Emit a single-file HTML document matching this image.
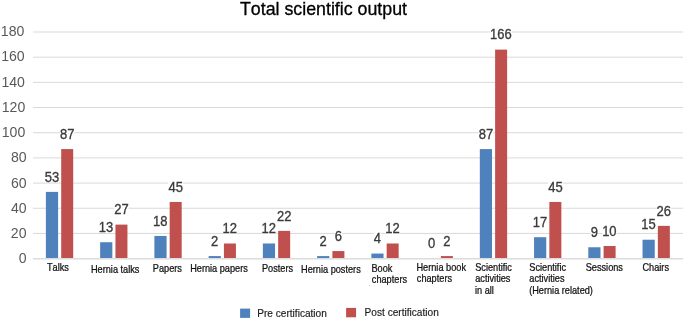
<!DOCTYPE html><html><head><meta charset="utf-8"><style>html,body{margin:0;padding:0;background:#fff;width:685px;height:320px;overflow:hidden}svg{display:block;filter:blur(0.3px)}text{font-family:"Liberation Sans",sans-serif;font-kerning:none}</style></head><body>
<svg width="685" height="320" viewBox="0 0 685 320">
<rect width="685" height="320" fill="#fff"/>
<rect x="33" y="232.92" width="650" height="1" fill="#D9D9D9"/>
<rect x="33" y="207.74" width="650" height="1" fill="#D9D9D9"/>
<rect x="33" y="182.57" width="650" height="1" fill="#D9D9D9"/>
<rect x="33" y="157.39" width="650" height="1" fill="#D9D9D9"/>
<rect x="33" y="132.21" width="650" height="1" fill="#D9D9D9"/>
<rect x="33" y="107.03" width="650" height="1" fill="#D9D9D9"/>
<rect x="33" y="81.86" width="650" height="1" fill="#D9D9D9"/>
<rect x="33" y="56.68" width="650" height="1" fill="#D9D9D9"/>
<rect x="33" y="31.50" width="650" height="1" fill="#D9D9D9"/>
<rect x="33" y="258.1" width="650" height="1.4" fill="#DADADA"/>
<text transform="translate(18.71 263.20) scale(1 1.04)" font-size="14.1" fill="#595959">0</text>
<text transform="translate(10.87 238.02) scale(1 1.04)" font-size="14.1" fill="#595959">20</text>
<text transform="translate(10.97 212.84) scale(1 1.04)" font-size="14.1" fill="#595959">40</text>
<text transform="translate(10.97 187.67) scale(1 1.04)" font-size="14.1" fill="#595959">60</text>
<text transform="translate(10.97 162.49) scale(1 1.04)" font-size="14.1" fill="#595959">80</text>
<text transform="translate(1.73 137.31) scale(1 1.04)" font-size="14.1" fill="#595959">100</text>
<text transform="translate(1.73 112.13) scale(1 1.04)" font-size="14.1" fill="#595959">120</text>
<text transform="translate(1.43 86.96) scale(1 1.04)" font-size="14.1" fill="#595959">140</text>
<text transform="translate(1.13 61.18) scale(1 1.04)" font-size="14.1" fill="#595959">160</text>
<text transform="translate(0.83 35.90) scale(1 1.04)" font-size="14.1" fill="#595959">180</text>
<rect x="45.90" y="191.88" width="12.2" height="66.12" fill="#4F81BD"/>
<rect x="61.20" y="149.08" width="12.0" height="108.92" fill="#C0504D"/>
<rect x="100.14" y="242.23" width="12.2" height="15.77" fill="#4F81BD"/>
<rect x="115.44" y="224.61" width="12.0" height="33.39" fill="#C0504D"/>
<rect x="154.38" y="235.94" width="12.2" height="22.06" fill="#4F81BD"/>
<rect x="169.68" y="201.95" width="12.0" height="56.05" fill="#C0504D"/>
<rect x="208.62" y="256.08" width="12.2" height="1.92" fill="#4F81BD"/>
<rect x="223.92" y="243.49" width="12.0" height="14.51" fill="#C0504D"/>
<rect x="262.86" y="243.49" width="12.2" height="14.51" fill="#4F81BD"/>
<rect x="278.16" y="230.90" width="12.0" height="27.10" fill="#C0504D"/>
<rect x="317.10" y="256.08" width="12.2" height="1.92" fill="#4F81BD"/>
<rect x="332.40" y="251.05" width="12.0" height="6.95" fill="#C0504D"/>
<rect x="371.34" y="253.56" width="12.2" height="4.44" fill="#4F81BD"/>
<rect x="386.64" y="243.49" width="12.0" height="14.51" fill="#C0504D"/>
<rect x="440.88" y="256.08" width="12.0" height="1.92" fill="#C0504D"/>
<rect x="479.82" y="149.08" width="12.2" height="108.92" fill="#4F81BD"/>
<rect x="495.12" y="49.62" width="12.0" height="208.38" fill="#C0504D"/>
<rect x="534.06" y="237.20" width="12.2" height="20.80" fill="#4F81BD"/>
<rect x="549.36" y="201.95" width="12.0" height="56.05" fill="#C0504D"/>
<rect x="588.30" y="247.27" width="12.2" height="10.73" fill="#4F81BD"/>
<rect x="603.60" y="246.01" width="12.0" height="11.99" fill="#C0504D"/>
<rect x="642.54" y="239.72" width="12.2" height="18.28" fill="#4F81BD"/>
<rect x="657.84" y="225.87" width="12.0" height="32.13" fill="#C0504D"/>
<rect x="44.72" y="171.11" width="14.57" height="10.92" fill="#fff"/>
<text transform="translate(44.80 181.63) scale(1 1.09)" font-size="13.0" fill="#3a3a3a" stroke="#3a3a3a" stroke-width="0.3">53</text>
<rect x="59.98" y="128.31" width="14.44" height="10.92" fill="#fff"/>
<text transform="translate(60.01 138.83) scale(1 1.09)" font-size="13.0" fill="#3a3a3a" stroke="#3a3a3a" stroke-width="0.3">87</text>
<rect x="99.19" y="221.47" width="14.10" height="10.92" fill="#fff"/>
<text transform="translate(98.80 231.98) scale(1 1.09)" font-size="13.0" fill="#3a3a3a" stroke="#3a3a3a" stroke-width="0.3">13</text>
<rect x="114.26" y="203.84" width="14.35" height="10.92" fill="#fff"/>
<text transform="translate(114.21 214.36) scale(1 1.09)" font-size="13.0" fill="#3a3a3a" stroke="#3a3a3a" stroke-width="0.3">27</text>
<rect x="153.43" y="215.17" width="14.10" height="10.92" fill="#fff"/>
<text transform="translate(153.04 225.69) scale(1 1.09)" font-size="13.0" fill="#3a3a3a" stroke="#3a3a3a" stroke-width="0.3">18</text>
<rect x="168.27" y="181.18" width="14.82" height="10.92" fill="#fff"/>
<text transform="translate(168.57 191.70) scale(1 1.09)" font-size="13.0" fill="#3a3a3a" stroke="#3a3a3a" stroke-width="0.3">45</text>
<rect x="211.16" y="235.31" width="7.12" height="10.92" fill="#fff"/>
<text transform="translate(211.11 245.83) scale(1 1.09)" font-size="13.0" fill="#3a3a3a" stroke="#3a3a3a" stroke-width="0.3">2</text>
<rect x="222.91" y="222.72" width="14.02" height="10.92" fill="#fff"/>
<text transform="translate(222.52 233.24) scale(1 1.09)" font-size="13.0" fill="#3a3a3a" stroke="#3a3a3a" stroke-width="0.3">12</text>
<rect x="261.95" y="222.72" width="14.02" height="10.92" fill="#fff"/>
<text transform="translate(261.56 233.24) scale(1 1.09)" font-size="13.0" fill="#3a3a3a" stroke="#3a3a3a" stroke-width="0.3">12</text>
<rect x="276.98" y="210.14" width="14.35" height="10.92" fill="#fff"/>
<text transform="translate(276.93 220.65) scale(1 1.09)" font-size="13.0" fill="#3a3a3a" stroke="#3a3a3a" stroke-width="0.3">22</text>
<rect x="319.64" y="235.31" width="7.12" height="10.92" fill="#fff"/>
<text transform="translate(319.59 245.83) scale(1 1.09)" font-size="13.0" fill="#3a3a3a" stroke="#3a3a3a" stroke-width="0.3">2</text>
<rect x="334.80" y="230.28" width="7.20" height="10.92" fill="#fff"/>
<text transform="translate(334.74 240.80) scale(1 1.09)" font-size="13.0" fill="#3a3a3a" stroke="#3a3a3a" stroke-width="0.3">6</text>
<rect x="373.56" y="232.80" width="7.75" height="10.92" fill="#fff"/>
<text transform="translate(373.87 243.31) scale(1 1.09)" font-size="13.0" fill="#3a3a3a" stroke="#3a3a3a" stroke-width="0.3">4</text>
<rect x="385.63" y="222.72" width="14.02" height="10.92" fill="#fff"/>
<text transform="translate(385.24 233.24) scale(1 1.09)" font-size="13.0" fill="#3a3a3a" stroke="#3a3a3a" stroke-width="0.3">12</text>
<rect x="427.97" y="237.83" width="7.41" height="10.92" fill="#fff"/>
<text transform="translate(428.07 248.35) scale(1 1.09)" font-size="13.0" fill="#3a3a3a" stroke="#3a3a3a" stroke-width="0.3">0</text>
<rect x="443.32" y="235.31" width="7.12" height="10.92" fill="#fff"/>
<text transform="translate(443.27 245.83) scale(1 1.09)" font-size="13.0" fill="#3a3a3a" stroke="#3a3a3a" stroke-width="0.3">2</text>
<rect x="478.70" y="128.31" width="14.44" height="10.92" fill="#fff"/>
<text transform="translate(478.73 138.83) scale(1 1.09)" font-size="13.0" fill="#3a3a3a" stroke="#3a3a3a" stroke-width="0.3">87</text>
<rect x="490.46" y="28.86" width="21.33" height="10.92" fill="#fff"/>
<text transform="translate(490.07 39.37) scale(1 1.09)" font-size="13.0" fill="#3a3a3a" stroke="#3a3a3a" stroke-width="0.3">166</text>
<rect x="533.15" y="216.43" width="14.02" height="10.92" fill="#fff"/>
<text transform="translate(532.76 226.95) scale(1 1.09)" font-size="13.0" fill="#3a3a3a" stroke="#3a3a3a" stroke-width="0.3">17</text>
<rect x="547.95" y="181.18" width="14.82" height="10.92" fill="#fff"/>
<text transform="translate(548.25 191.70) scale(1 1.09)" font-size="13.0" fill="#3a3a3a" stroke="#3a3a3a" stroke-width="0.3">45</text>
<rect x="590.80" y="226.50" width="7.20" height="10.92" fill="#fff"/>
<text transform="translate(590.79 237.02) scale(1 1.09)" font-size="13.0" fill="#3a3a3a" stroke="#3a3a3a" stroke-width="0.3">9</text>
<rect x="602.52" y="225.24" width="14.16" height="10.92" fill="#fff"/>
<text transform="translate(602.13 235.76) scale(1 1.09)" font-size="13.0" fill="#3a3a3a" stroke="#3a3a3a" stroke-width="0.3">10</text>
<rect x="641.58" y="218.95" width="14.12" height="10.92" fill="#fff"/>
<text transform="translate(641.19 229.47) scale(1 1.09)" font-size="13.0" fill="#3a3a3a" stroke="#3a3a3a" stroke-width="0.3">15</text>
<rect x="656.62" y="205.10" width="14.43" height="10.92" fill="#fff"/>
<text transform="translate(656.57 215.62) scale(1 1.09)" font-size="13.0" fill="#3a3a3a" stroke="#3a3a3a" stroke-width="0.3">26</text>
<text transform="translate(46.99 270.80) scale(1 1.12)" font-size="9.2" fill="#111" stroke="#111" stroke-width="0.22">Talks</text>
<text transform="translate(90.95 272.60) scale(1 1.12)" font-size="9.2" fill="#111" stroke="#111" stroke-width="0.22">Hernia talks</text>
<text transform="translate(152.85 272.00) scale(1 1.12)" font-size="9.2" fill="#111" stroke="#111" stroke-width="0.22">Papers</text>
<text transform="translate(190.15 271.50) scale(1 1.12)" font-size="9.2" fill="#111" stroke="#111" stroke-width="0.22">Hernia papers</text>
<text transform="translate(261.95 272.00) scale(1 1.12)" font-size="9.2" fill="#111" stroke="#111" stroke-width="0.22">Posters</text>
<text transform="translate(301.05 272.50) scale(1 1.12)" font-size="9.2" fill="#111" stroke="#111" stroke-width="0.22">Hernia posters</text>
<text transform="translate(371.45 271.60) scale(1 1.12)" font-size="9.2" fill="#111" stroke="#111" stroke-width="0.22">Book</text>
<text transform="translate(371.81 283.20) scale(1 1.12)" font-size="9.2" fill="#111" stroke="#111" stroke-width="0.22">chapters</text>
<text transform="translate(416.45 270.80) scale(1 1.12)" font-size="9.2" fill="#111" stroke="#111" stroke-width="0.22">Hernia book</text>
<text transform="translate(416.81 282.40) scale(1 1.12)" font-size="9.2" fill="#111" stroke="#111" stroke-width="0.22">chapters</text>
<text transform="translate(475.18 270.60) scale(1 1.12)" font-size="9.2" fill="#111" stroke="#111" stroke-width="0.22">Scientific</text>
<text transform="translate(475.21 282.20) scale(1 1.12)" font-size="9.2" fill="#111" stroke="#111" stroke-width="0.22">activities</text>
<text transform="translate(474.98 293.80) scale(1 1.12)" font-size="9.2" fill="#111" stroke="#111" stroke-width="0.22">in all</text>
<text transform="translate(529.28 270.80) scale(1 1.12)" font-size="9.2" fill="#111" stroke="#111" stroke-width="0.22">Scientific</text>
<text transform="translate(529.31 282.40) scale(1 1.12)" font-size="9.2" fill="#111" stroke="#111" stroke-width="0.22">activities</text>
<text transform="translate(529.13 294.00) scale(1 1.12)" font-size="9.2" fill="#111" stroke="#111" stroke-width="0.22">(Hernia related)</text>
<text transform="translate(585.68 270.60) scale(1 1.12)" font-size="9.2" fill="#111" stroke="#111" stroke-width="0.22">Sessions</text>
<text transform="translate(642.43 271.00) scale(1 1.12)" font-size="9.2" fill="#111" stroke="#111" stroke-width="0.22">Chairs</text>
<text x="240.0" y="15.0" font-size="17.8" fill="#000" stroke="#000" stroke-width="0.3">Total scientific output</text>
<rect x="240.1" y="308.6" width="10" height="9.3" fill="#4F81BD"/>
<text x="257.2" y="317" font-size="10.12" fill="#1a1a1a" stroke="#1a1a1a" stroke-width="0.15">Pre certification</text>
<rect x="346.1" y="307.9" width="10" height="9.4" fill="#C0504D"/>
<text x="364.6" y="316.2" font-size="10.12" fill="#1a1a1a" stroke="#1a1a1a" stroke-width="0.15">Post certification</text>
<circle cx="369.4" cy="285.4" r="0.6" fill="#c8c8c8"/>
</svg></body></html>
